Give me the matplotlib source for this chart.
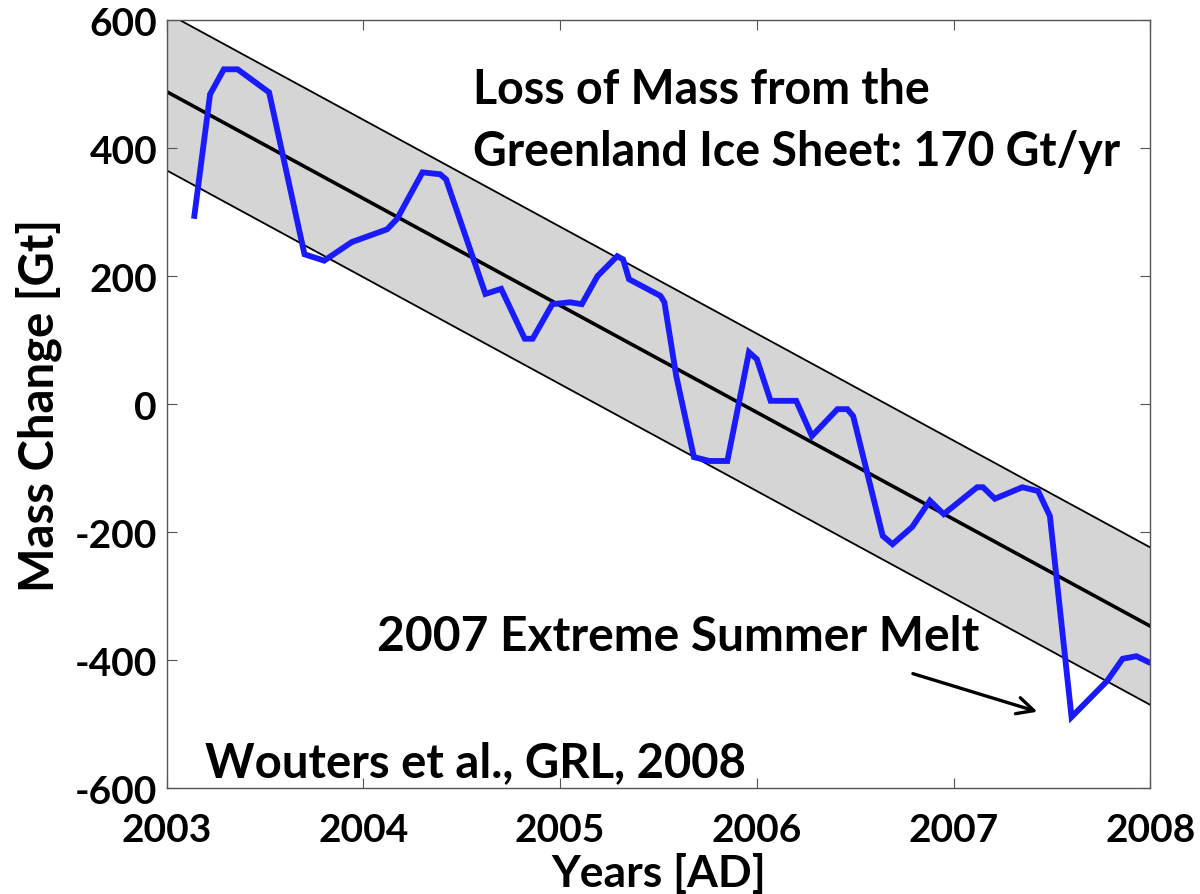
import numpy as np
import matplotlib
matplotlib.use("Agg")
import matplotlib.pyplot as plt

plt.rcParams['font.family'] = ['Lato', 'DejaVu Sans']
plt.rcParams['font.weight'] = 'bold'

# GRACE mass anomaly
years = [2003.14, 2003.22, 2003.29, 2003.36, 2003.52, 2003.70, 2003.80, 2003.94,
         2004.12, 2004.17, 2004.30, 2004.39, 2004.42, 2004.62, 2004.70, 2004.82,
         2004.86, 2004.96, 2005.05, 2005.11, 2005.19, 2005.29, 2005.32, 2005.35,
         2005.51, 2005.53, 2005.59, 2005.68, 2005.76, 2005.85, 2005.96, 2006.00,
         2006.07, 2006.20, 2006.28, 2006.41, 2006.46, 2006.49, 2006.64, 2006.69,
         2006.79, 2006.88, 2006.95, 2007.12, 2007.15, 2007.21, 2007.35, 2007.43,
         2007.49, 2007.60, 2007.78, 2007.86, 2007.93, 2007.99]
mass = [294, 484, 523, 523, 487, 234, 224, 253,
        273, 289, 362, 359, 351, 172, 180, 102,
        102, 156, 159, 156, 200, 231, 226, 195,
        169, 159, 44, -83, -89, -89, 81, 70,
        5, 5, -50, -8, -8, -19, -206, -219,
        -192, -151, -172, -130, -130, -148, -130, -136,
        -175, -489, -433, -398, -394, -403]

# linear trend and its envelope
trend_years = [2003.0, 2008.0]
trend_mass = [488, -347]
band_halfwidth = 123

xticks = [2003, 2004, 2005, 2006, 2007, 2008]
yticks = [-600, -400, -200, 0, 200, 400, 600]

fig = plt.figure(figsize=(12, 8.95), dpi=100)
ax = fig.add_axes([0.139, 0.1184, 0.8195, 0.8581])

tx = np.array(trend_years)
ty = np.array(trend_mass)
ax.fill_between(tx, ty - band_halfwidth, ty + band_halfwidth, color='#d5d5d5', lw=0)
ax.plot(tx, ty + band_halfwidth, color='black', lw=1.3)
ax.plot(tx, ty - band_halfwidth, color='black', lw=1.3)
ax.plot(tx, ty, color='black', lw=2.6)
ax.plot(years, mass, color='#1a1aff', lw=4.2, solid_joinstyle='miter')

ax.set_xlim(2003, 2008)
ax.set_ylim(-600, 600)
ax.set_xticks(xticks)
ax.set_xticklabels([str(t) for t in xticks])
ax.set_yticks(yticks)
ax.set_yticklabels([str(t) for t in yticks])
ax.tick_params(direction='in', top=True, right=True, length=7, width=0.8,
               color='#555555', labelsize=28)
ax.tick_params(axis='x', pad=17)
ax.tick_params(axis='y', pad=7)
for s in ax.spines.values():
    s.set_color('#555555')
    s.set_linewidth(1.0)

ax.set_xlabel('Years [AD]', fontsize=32, fontweight='bold')
ax.xaxis.set_label_coords(0.5, -0.083)
ax.set_ylabel('Mass Change [Gt]', fontsize=34, fontweight='bold')
ax.yaxis.set_label_coords(-0.107, 0.5)

# annotations (figure-fraction positions)
fig.text(473 / 1200, 1 - 104 / 895, 'Loss of Mass from the', fontsize=33.5,
         fontweight='bold', va='baseline', ha='left')
fig.text(473 / 1200, 1 - 166 / 895, 'Greenland Ice Sheet: 170 Gt/yr', fontsize=33.5,
         fontweight='bold', va='baseline', ha='left')
fig.text(377 / 1200, 1 - 651 / 895, '2007 Extreme Summer Melt', fontsize=34.5,
         fontweight='bold', va='baseline', ha='left')
fig.text(205 / 1200, 1 - 777 / 895, 'Wouters et al., GRL, 2008', fontsize=34,
         fontweight='bold', va='baseline', ha='left')
ax.annotate('', xy=(2007.44, -482), xytext=(2006.78, -420),
            arrowprops=dict(arrowstyle='->', color='black', lw=2.4,
                            mutation_scale=30))

fig.savefig('out.png', dpi=100)
